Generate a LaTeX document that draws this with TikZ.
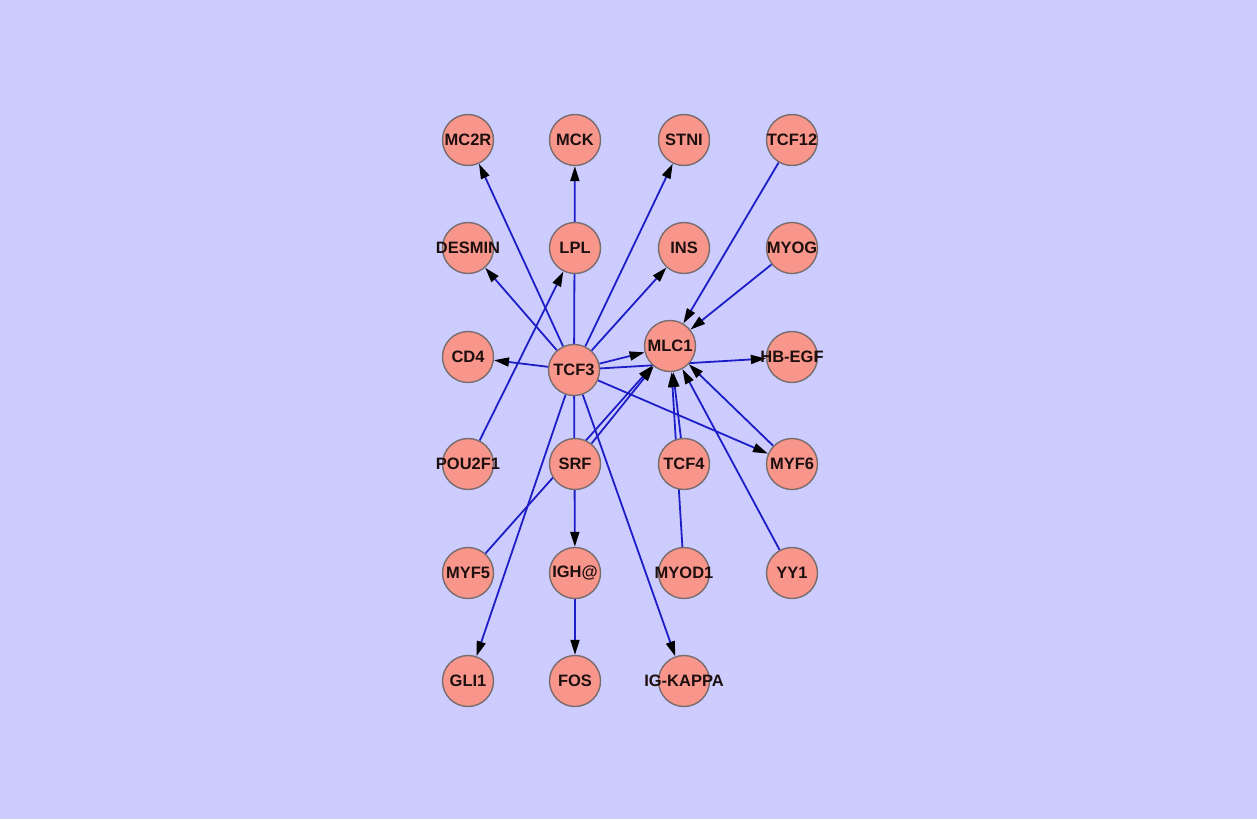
\documentclass[tikz,border=0pt]{standalone}
\usepackage{fontspec}
\setmainfont{Liberation Sans}
\usetikzlibrary{arrows.meta}
\pgfdeclarelayer{bg}
\pgfdeclarelayer{edges}
\pgfsetlayers{bg,edges,main}
\definecolor{bgcol}{RGB}{204,204,255}
\definecolor{nodefill}{RGB}{248,150,140}
\definecolor{nodeline}{RGB}{120,108,108}
\definecolor{edgecol}{RGB}{30,30,200}
\definecolor{textcol}{RGB}{30,15,15}
\newcommand{\gl}[1]{\makebox[0pt][c]{#1}}
\begin{document}
\begin{tikzpicture}[x=1pt,y=-1pt,
  gene/.style={circle, draw=nodeline, line width=1.4pt, fill=nodefill, minimum size=51pt, inner sep=0pt,
    font=\fontsize{16.5}{17}\selectfont\bfseries, text=textcol},
  link/.style={draw=edgecol, line width=1.8pt, -{Triangle[length=15pt,width=9pt,color=black]}}]
\useasboundingbox (0,0) rectangle (1257,819);
\begin{pgfonlayer}{bg}
\fill[bgcol] (0,0) rectangle (1257,819);
\end{pgfonlayer}
% nodes
\node[gene] (MC2R) at (468,140) {\gl{MC2R}};
\node[gene] (MCK) at (575,140) {\gl{MCK}};
\node[gene] (STNI) at (684,140) {\gl{STNI}};
\node[gene] (TCF12) at (792,140) {\gl{TCF12}};
\node[gene] (DESMIN) at (468,248) {\gl{DESMIN}};
\node[gene] (LPL) at (575,248) {\gl{LPL}};
\node[gene] (INS) at (684,248) {\gl{INS}};
\node[gene] (MYOG) at (792,248) {\gl{MYOG}};
\node[gene] (CD4) at (468,357) {\gl{CD4}};
\node[gene] (TCF3) at (574,370) {\gl{TCF3}};
\node[gene] (MLC1) at (670,346) {\gl{MLC1}};
\node[gene] (HBEGF) at (792,357) {\gl{HB-EGF}};
\node[gene] (POU2F1) at (468,464) {\gl{POU2F1}};
\node[gene] (SRF) at (575,464) {\gl{SRF}};
\node[gene] (TCF4) at (684,464) {\gl{TCF4}};
\node[gene] (MYF6) at (792,464) {\gl{MYF6}};
\node[gene] (MYF5) at (468,573) {\gl{MYF5}};
\node[gene] (IGH) at (575,573) {\gl{IGH@}};
\node[gene] (MYOD1) at (684,573) {\gl{MYOD1}};
\node[gene] (YY1) at (792,573) {\gl{YY1}};
\node[gene] (GLI1) at (468,681) {\gl{GLI1}};
\node[gene] (FOS) at (575,681) {\gl{FOS}};
\node[gene] (IGK) at (684,681) {\gl{IG-KAPPA}};
% edges
\begin{pgfonlayer}{edges}
\draw[link] (TCF3) -- (MC2R);
\draw[link] (TCF3) -- (MCK);
\draw[link] (TCF3) -- (STNI);
\draw[link] (TCF3) -- (DESMIN);
\draw[link] (TCF3) -- (INS);
\draw[link] (TCF3) -- (CD4);
\draw[link] (TCF3) -- (MLC1);
\draw[link] (TCF3) -- (HBEGF);
\draw[link] (TCF3) -- (MYF6);
\draw[link] (TCF3) -- (GLI1);
\draw[link] (TCF3) -- (IGH);
\draw[link] (TCF3) -- (IGK);
\draw[link] (POU2F1) -- (LPL);
\draw[link] (TCF12) -- (MLC1);
\draw[link] (MYOG) -- (MLC1);
\draw[link] (SRF) -- (MLC1);
\draw[link] (MYF5) -- (MLC1);
\draw[link] (TCF4) -- (MLC1);
\draw[link] (MYOD1) -- (MLC1);
\draw[link] (MYF6) -- (MLC1);
\draw[link] (YY1) -- (MLC1);
\draw[link] (IGH) -- (FOS);
\end{pgfonlayer}
\end{tikzpicture}
\end{document}
